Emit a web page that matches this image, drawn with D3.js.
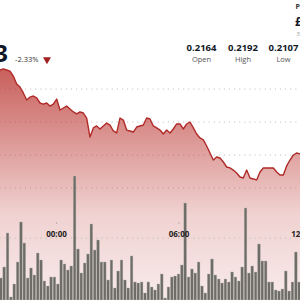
<!DOCTYPE html>
<html>
<head>
  <script src="https://d3js.org/d3.v7.min.js"></script>
  <style>
    body { margin: 0; background: #fff; }
    svg text { font-family: "Open Sans", sans-serif; }
  </style>
</head>
<body>
  <div id="chart"></div>
  <script>
    // price line, one point every bar step (91 points)
    var prices = [
      0.21894, 0.21902, 0.21894, 0.21886, 0.21848, 0.21788, 0.21765, 0.21720, 0.21667, 0.21689,
      0.21697, 0.21682, 0.21644, 0.21636, 0.21644, 0.21621, 0.21636, 0.21674, 0.21591, 0.21606,
      0.21621, 0.21598, 0.21576, 0.21561, 0.21576, 0.21568, 0.21530, 0.21386, 0.21455, 0.21470,
      0.21447, 0.21470, 0.21492, 0.21477, 0.21432, 0.21417, 0.21530, 0.21515, 0.21439, 0.21432,
      0.21424, 0.21462, 0.21470, 0.21477, 0.21530, 0.21523, 0.21470, 0.21455, 0.21439, 0.21409,
      0.21439, 0.21417, 0.21447, 0.21485, 0.21485, 0.21447, 0.21485, 0.21500, 0.21455, 0.21409,
      0.21379, 0.21364, 0.21318, 0.21265, 0.21212, 0.21235, 0.21227, 0.21197, 0.21159, 0.21152,
      0.21136, 0.21114, 0.21083, 0.21076, 0.21136, 0.21076, 0.21068, 0.21061, 0.21121, 0.21152,
      0.21152, 0.21152, 0.21152, 0.21121, 0.21098, 0.21098, 0.21167, 0.21212, 0.21250, 0.21265,
      0.21258
    ];

    // volume bars (90)
    var volumes = [
      22, 33, 67, 3, 16, 38, 78, 57, 22, 32, 25, 47, 40, 19, 14, 23, 23, 16, 40, 36,
      30, 34, 124, 51, 27, 37, 46, 76, 50, 60, 38, 38, 20, 40, 12, 29, 40, 20, 12, 44,
      18, 17, 18, 7, 18,
      13, 10, 16, 26, 2, 13, 23, 24, 26, 35, 97, 23, 31, 27, 38, 14, 7, 26, 41, 25,
      21, 17, 21, 18, 28, 23, 19, 33, 92, 27, 34, 28, 56, 39, 39, 18, 18, 10, 9, 11,
      29, 9, 18, 48, 18
    ];

    var gridPrices = [0.2175, 0.2150, 0.2125, 0.2100];
    var timeTicks = ["00:00", "06:00", "12:00"];
    var tickHours = [0, 6, 12];

    var lastPrice = "$0.2113";
    var change = "-2.33%";
    var statValues = ["0.2164", "0.2192", "0.2107"];
    var statLabels = ["Open", "High", "Low"];

    var W = 300, H = 300;

    var svg = d3.select("#chart").append("svg")
      .attr("width", W)
      .attr("height", H);

    var x = d3.scaleLinear().domain([0, prices.length - 1]).range([0, W]);
    var y = d3.scaleLinear().domain([0.2100, 0.2175]).range([188, 89]);

    var xb = d3.scaleBand()
      .domain(d3.range(volumes.length))
      .range([-0.5, W + 0.5])
      .paddingInner(0.2);
    var yv = d3.scaleLinear().domain([0, 124]).range([H, 176]);

    var xt = d3.scaleLinear().domain([0, 6]).range([56.5, 179]);

    // gradient for area
    var defs = svg.append("defs");
    var grad = defs.append("linearGradient")
      .attr("id", "areaGrad")
      .attr("gradientUnits", "userSpaceOnUse")
      .attr("x1", 0).attr("x2", 0)
      .attr("y1", 68).attr("y2", H);
    grad.append("stop").attr("offset", "0%").attr("stop-color", "#b9322d").attr("stop-opacity", 0.78);
    grad.append("stop").attr("offset", "35%").attr("stop-color", "#b9322d").attr("stop-opacity", 0.47);
    grad.append("stop").attr("offset", "63%").attr("stop-color", "#b9322d").attr("stop-opacity", 0.22);
    grad.append("stop").attr("offset", "100%").attr("stop-color", "#b9322d").attr("stop-opacity", 0.1);

    // dotted grid
    svg.append("g").selectAll("line")
      .data(gridPrices)
      .join("line")
      .attr("x1", 0).attr("x2", W)
      .attr("y1", function(d) { return y(d); })
      .attr("y2", function(d) { return y(d); })
      .attr("stroke", "#b8b8b8")
      .attr("stroke-width", 1.2)
      .attr("stroke-linecap", "round")
      .attr("stroke-dasharray", "0.1,5");

    // area + line
    var area = d3.area()
      .x(function(d, i) { return x(i); })
      .y0(H)
      .y1(function(d) { return y(d); });

    var line = d3.line()
      .x(function(d, i) { return x(i); })
      .y(function(d) { return y(d); });

    svg.append("path")
      .datum(prices)
      .attr("d", area)
      .attr("fill", "url(#areaGrad)");

    svg.append("path")
      .datum(prices)
      .attr("d", line)
      .attr("fill", "none")
      .attr("stroke", "#b02a28")
      .attr("stroke-width", 1.4)
      .attr("stroke-linejoin", "round");

    // time axis line + labels
    svg.append("line")
      .attr("x1", 0).attr("x2", W)
      .attr("y1", 238).attr("y2", 238)
      .attr("stroke", "#b8b8b8")
      .attr("stroke-width", 1.2)
      .attr("stroke-linecap", "round")
      .attr("stroke-dasharray", "0.1,5");

    svg.append("g").selectAll("circle")
      .data(tickHours)
      .join("circle")
      .attr("cx", function(d) { return xt(d); })
      .attr("cy", 223)
      .attr("r", 0.7)
      .attr("fill", "#b0a0a0");

    // volume bars
    svg.append("g").selectAll("rect")
      .data(volumes)
      .join("rect")
      .attr("x", function(d, i) { return xb(i); })
      .attr("width", xb.bandwidth())
      .attr("y", function(d) { return yv(d); })
      .attr("height", function(d) { return H - yv(d); })
      .attr("fill", "#6d6c66")
      .attr("stroke", "#b5b2ad")
      .attr("stroke-width", 0.4);

    svg.append("g").selectAll("text")
      .data(timeTicks)
      .join("text")
      .attr("x", function(d, i) { return xt(tickHours[i]); })
      .attr("y", 237)
      .attr("text-anchor", "middle")
      .attr("font-size", 8)
      .attr("font-weight", 700)
      .attr("fill", "#222")
      .text(function(d) { return d; });

    // header
    svg.append("text")
      .attr("x", 8).attr("y", 62)
      .attr("text-anchor", "end")
      .attr("font-size", 24)
      .attr("font-weight", 700)
      .attr("fill", "#111827")
      .text(lastPrice);

    svg.append("text")
      .attr("x", 15).attr("y", 62)
      .attr("font-size", 7.5)
      .attr("fill", "#333")
      .text(change);

    svg.append("path")
      .attr("d", d3.symbol(d3.symbolTriangle, 28)())
      .attr("transform", "translate(47,59.5) rotate(180)")
      .attr("fill", "#a32020");

    var statX = [201.5, 243, 283.5];
    svg.append("g").selectAll("text")
      .data(statValues)
      .join("text")
      .attr("x", function(d, i) { return statX[i]; })
      .attr("y", 51)
      .attr("text-anchor", "middle")
      .attr("font-size", 9.5)
      .attr("font-weight", 700)
      .attr("fill", "#111827")
      .text(function(d) { return d; });

    svg.append("g").selectAll("text")
      .data(statLabels)
      .join("text")
      .attr("x", function(d, i) { return statX[i]; })
      .attr("y", 61.5)
      .attr("text-anchor", "middle")
      .attr("font-size", 7.5)
      .attr("fill", "#555")
      .text(function(d) { return d; });

    svg.append("text")
      .attr("x", 295.5).attr("y", 9)
      .attr("font-size", 7)
      .attr("font-weight", 700)
      .attr("fill", "#333")
      .text("Price");

    svg.append("text")
      .attr("x", 295).attr("y", 25.5)
      .attr("font-size", 12)
      .attr("font-weight", 700)
      .attr("fill", "#111827")
      .text("£0.16");

    svg.append("text")
      .attr("x", 296.5).attr("y", 36)
      .attr("font-size", 6)
      .attr("fill", "#999")
      .text("3");
  </script>
</body>
</html>
